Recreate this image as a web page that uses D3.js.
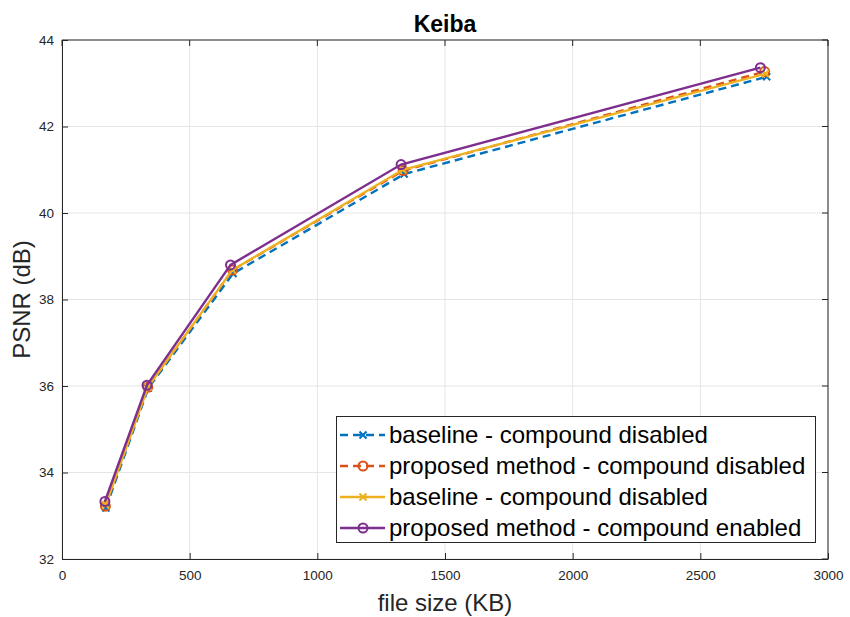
<!DOCTYPE html>
<html>
<head>
<meta charset="utf-8">
<script src="https://cdn.jsdelivr.net/npm/d3@7"></script>
<style>
  body { margin: 0; background: #fff; }
  svg { font-family: "Liberation Sans", Arial, Helvetica, sans-serif; }
</style>
</head>
<body>
<svg id="chart" width="850" height="617"></svg>
<script>
// File size (KB) and PSNR (dB) for each configuration
const baselineDisabledSize = [172, 338, 670, 1340, 2760];
const baselineDisabledPsnr = [33.18, 35.95, 38.60, 40.90, 43.15];

const proposedDisabledSize = [170, 336, 668, 1336, 2752];
const proposedDisabledPsnr = [33.22, 35.97, 38.68, 40.98, 43.27];

const baselineDisabled2Size = [171, 337, 667, 1335, 2755];
const baselineDisabled2Psnr = [33.25, 35.98, 38.68, 41.00, 43.22];

const proposedEnabledSize = [168, 333, 660, 1328, 2735];
const proposedEnabledPsnr = [33.33, 36.02, 38.80, 41.12, 43.36];

const seriesNames = [
  "baseline - compound disabled",
  "proposed method - compound disabled",
  "baseline - compound disabled",
  "proposed method - compound enabled"
];

const xTicks = [0, 500, 1000, 1500, 2000, 2500, 3000];
const yTicks = [32, 34, 36, 38, 40, 42, 44];

const series = [
  { name: seriesNames[0], xs: baselineDisabledSize, ys: baselineDisabledPsnr, color: "#0072BD", dash: "8,5", marker: "x" },
  { name: seriesNames[1], xs: proposedDisabledSize, ys: proposedDisabledPsnr, color: "#D95319", dash: "8,5", marker: "o" },
  { name: seriesNames[2], xs: baselineDisabled2Size, ys: baselineDisabled2Psnr, color: "#EDB120", dash: null, marker: "x" },
  { name: seriesNames[3], xs: proposedEnabledSize, ys: proposedEnabledPsnr, color: "#7E2F8E", dash: null, marker: "o" }
];

const svg = d3.select("#chart");
const plotL = 62, plotR = 828, plotT = 40, plotB = 559;

const x = d3.scaleLinear().domain([0, 3000]).range([plotL, plotR]);
const y = d3.scaleLinear().domain([32, 44]).range([plotB, plotT]);

// grid
const grid = svg.append("g");
grid.selectAll("line.gx").data(xTicks).enter().append("line")
  .attr("x1", d => x(d)).attr("x2", d => x(d)).attr("y1", plotT).attr("y2", plotB)
  .attr("stroke", "#e5e5e5").attr("stroke-width", 1);
grid.selectAll("line.gy").data(yTicks).enter().append("line")
  .attr("x1", plotL).attr("x2", plotR).attr("y1", d => y(d)).attr("y2", d => y(d))
  .attr("stroke", "#e5e5e5").attr("stroke-width", 1);

// axes
const xAxis = d3.axisBottom(x).tickValues(xTicks).tickFormat(d3.format("d"))
  .tickSizeInner(-6).tickSizeOuter(0).tickPadding(11);
const yAxis = d3.axisLeft(y).tickValues(yTicks).tickFormat(d3.format("d"))
  .tickSizeInner(-6).tickSizeOuter(0).tickPadding(8);

const gx = svg.append("g").attr("transform", `translate(0,${plotB})`).call(xAxis);
const gy = svg.append("g").attr("transform", `translate(${plotL},0)`).call(yAxis);
[gx, gy].forEach(g => {
  g.select(".domain").attr("stroke", "#262626").attr("stroke-width", 1);
  g.selectAll(".tick line").attr("stroke", "#262626");
  g.selectAll(".tick text").attr("fill", "#262626").style("font-size", "13.5px")
    .style("font-family", "'Liberation Sans', Arial, sans-serif");
});
// top and right box edges
svg.append("line").attr("x1", plotL).attr("x2", plotR).attr("y1", plotT).attr("y2", plotT)
  .attr("stroke", "#262626").attr("stroke-width", 1);
svg.append("line").attr("x1", plotR).attr("x2", plotR).attr("y1", plotT).attr("y2", plotB)
  .attr("stroke", "#262626").attr("stroke-width", 1);
svg.selectAll(".tickTop").data(xTicks).enter().append("line")
  .attr("x1", d => x(d)).attr("x2", d => x(d)).attr("y1", plotT).attr("y2", plotT + 6)
  .attr("stroke", "#262626");
svg.selectAll(".tickRight").data(yTicks).enter().append("line")
  .attr("x1", plotR).attr("x2", plotR - 6).attr("y1", d => y(d)).attr("y2", d => y(d))
  .attr("stroke", "#262626");

// title and axis labels
svg.append("text").attr("x", (plotL + plotR) / 2).attr("y", 32).attr("text-anchor", "middle")
  .style("font-size", "23px").style("font-weight", "bold").attr("fill", "#000").text("Keiba");
svg.append("text").attr("x", (plotL + plotR) / 2).attr("y", 611).attr("text-anchor", "middle")
  .style("font-size", "24px").attr("fill", "#262626").text("file size (KB)");
svg.append("text").attr("transform", `translate(30,${(plotT + plotB) / 2}) rotate(-90)`)
  .attr("text-anchor", "middle").style("font-size", "24px").attr("fill", "#262626").text("PSNR (dB)");

function drawMarker(g, cx, cy, type, color) {
  if (type === "o") {
    g.append("circle").attr("cx", cx).attr("cy", cy).attr("r", 4.5)
      .attr("fill", "none").attr("stroke", color).attr("stroke-width", 2);
  } else {
    const s = 3.5;
    g.append("path").attr("d", `M${cx - s},${cy - s}L${cx + s},${cy + s}M${cx - s},${cy + s}L${cx + s},${cy - s}`)
      .attr("stroke", color).attr("stroke-width", 2).attr("fill", "none");
  }
}

// series lines
const line = d3.line().x(d => x(d[0])).y(d => y(d[1]));
series.forEach(s => {
  const pts = s.xs.map((v, i) => [v, s.ys[i]]);
  const g = svg.append("g");
  g.append("path").datum(pts).attr("d", line).attr("fill", "none")
    .attr("stroke", s.color).attr("stroke-width", 2.4)
    .attr("stroke-dasharray", s.dash);
  pts.forEach(p => drawMarker(g, x(p[0]), y(p[1]), s.marker, s.color));
});

// legend
const lg = svg.append("g");
lg.append("rect").attr("x", 336.5).attr("y", 416.5).attr("width", 479).attr("height", 126)
  .attr("fill", "#fff").attr("stroke", "#262626").attr("stroke-width", 1);
const rowY = [435, 466, 497, 528];
series.forEach((s, i) => {
  const ry = rowY[i];
  lg.append("line").attr("x1", 340).attr("x2", 385).attr("y1", ry).attr("y2", ry)
    .attr("stroke", s.color).attr("stroke-width", 2.4).attr("stroke-dasharray", s.dash);
  drawMarker(lg, 363, ry, s.marker, s.color);
  lg.append("text").attr("x", 389).attr("y", ry).attr("dy", "0.35em")
    .style("font-size", "24px").attr("fill", "#000").text(s.name);
});
</script>
</body>
</html>
